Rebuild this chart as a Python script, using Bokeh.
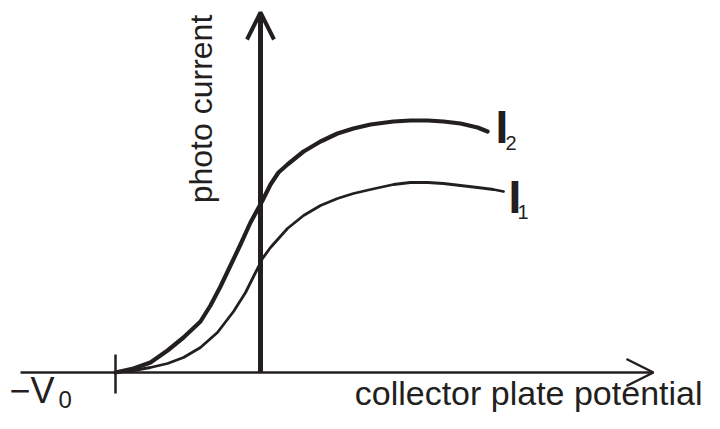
import math
from bokeh.plotting import figure
from bokeh.models import Range1d, Arrow, OpenHead, Label
from bokeh.embed import file_html
from bokeh.resources import INLINE

# ---- data (potential in units of V0, current in arbitrary units) ----
i2_v = [-1.000, -0.876, -0.759, -0.641, -0.531, -0.414, -0.345, -0.276, -0.207, -0.138,
        -0.069, 0.014, 0.069, 0.124, 0.186, 0.297, 0.414, 0.531, 0.641, 0.759,
        0.917, 1.034, 1.152, 1.262, 1.379, 1.497, 1.566]
i2_i = [0.00, 0.04, 0.10, 0.22, 0.35, 0.51, 0.67, 0.86, 1.07, 1.28,
        1.50, 1.72, 1.88, 2.00, 2.08, 2.21, 2.31, 2.39, 2.44, 2.48,
        2.51, 2.52, 2.52, 2.51, 2.49, 2.45, 2.41]

i1_v = [-1.000, -0.876, -0.759, -0.641, -0.531, -0.414, -0.297, -0.186, -0.103, -0.041,
        0.014, 0.069, 0.186, 0.297, 0.414, 0.531, 0.641, 0.759, 0.917, 1.034,
        1.152, 1.262, 1.379, 1.497, 1.607, 1.676]
i1_i = [0.00, 0.02, 0.05, 0.09, 0.15, 0.25, 0.40, 0.61, 0.80, 0.98,
        1.14, 1.25, 1.44, 1.57, 1.67, 1.74, 1.79, 1.83, 1.88, 1.90,
        1.90, 1.89, 1.87, 1.85, 1.83, 1.81]

stopping_potential = -1.0          # -V0
x_axis_extent = [-1.655, 2.71]     # collector plate potential axis
y_axis_extent = [0.0, 3.60]        # photo current axis
tick_extent = [-0.21, 0.18]

x_label = "collector plate potential"
y_label = "photo current"
curve_names = ["I", "I"]
curve_subs = ["2", "1"]

INK = "#231f20"
FONT = "Liberation Sans"

p = figure(width=704, height=413, output_backend="svg", toolbar_location=None,
           x_range=Range1d(-1.7931, 3.0621), y_range=Range1d(-0.41, 3.72),
           min_border=0, min_border_left=0, min_border_right=0,
           min_border_top=0, min_border_bottom=0)
p.axis.visible = False
p.grid.visible = False
p.outline_line_color = None
p.background_fill_color = "white"
p.border_fill_color = "white"

# curves
p.line(i2_v, i2_i, line_color=INK, line_width=4.2, line_join="round", line_cap="round")
p.line(i1_v, i1_i, line_color=INK, line_width=2.8, line_join="round", line_cap="round")

# axes as arrows
p.add_layout(Arrow(x_start=x_axis_extent[0], y_start=0, x_end=x_axis_extent[1], y_end=0,
                   line_color=INK, line_width=2.5,
                   end=OpenHead(size=27, line_color=INK, line_width=2.5)))
p.add_layout(Arrow(x_start=0, y_start=y_axis_extent[0], x_end=0, y_end=y_axis_extent[1],
                   line_color=INK, line_width=5,
                   end=OpenHead(size=27, line_color=INK, line_width=4)))

# -V0 tick
p.segment(x0=[stopping_potential], y0=[tick_extent[0]], x1=[stopping_potential], y1=[tick_extent[1]],
          line_color=INK, line_width=2.5)

# texts
p.add_layout(Label(x=3.0483, y=-0.20, text=x_label, text_align="right",
                   text_baseline="alphabetic", text_font=FONT, text_font_size="34px",
                   text_color=INK))
p.add_layout(Label(x=-0.407, y=2.635, text=y_label, angle=math.pi / 2, text_align="center",
                   text_baseline="alphabetic", text_font=FONT, text_font_size="32px",
                   text_color=INK))

name_pos = [(1.6207, 2.46), (1.7103, 1.755)]
sub_pos = [(1.6897, 2.295), (1.7724, 1.605)]
for nm, sb, (nx, ny), (sx, sy) in zip(curve_names, curve_subs, name_pos, sub_pos):
    p.add_layout(Label(x=nx, y=ny, text=nm, text_align="left", text_baseline="alphabetic",
                       text_font=FONT, text_font_size="46px", text_font_style="bold",
                       text_color=INK))
    p.add_layout(Label(x=sx, y=sy, text=sb, text_align="left", text_baseline="alphabetic",
                       text_font=FONT, text_font_size="20px", text_color=INK))

p.add_layout(Label(x=-1.731, y=-0.18, text="\u2212V", text_align="left",
                   text_baseline="alphabetic", text_font=FONT, text_font_size="36px",
                   text_color=INK))
p.add_layout(Label(x=-1.393, y=-0.265, text="0", text_align="left",
                   text_baseline="alphabetic", text_font=FONT, text_font_size="24px",
                   text_color=INK))

open("out.html", "w").write(file_html(p, INLINE))
